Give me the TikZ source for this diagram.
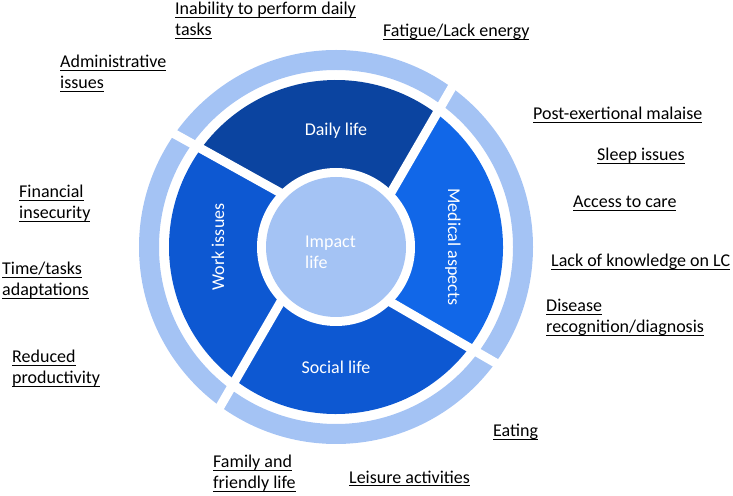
\documentclass[tikz,border=0pt]{standalone}
\usepackage{fontspec}
\setmainfont{Carlito}

\definecolor{ringlight}{RGB}{164,195,244}
\definecolor{dailyblue}{RGB}{11,68,160}
\definecolor{medblue}{RGB}{17,103,232}
\definecolor{workblue}{RGB}{13,88,210}

\newsavebox{\undlbox}
\newcommand{\undl}[1]{\sbox{\undlbox}{#1}\rlap{\rule[-2.8pt]{\wd\undlbox}{1pt}}\usebox{\undlbox}}

\begin{document}
\begin{tikzpicture}[x=1pt,y=1pt,
  font=\fontsize{18}{21}\selectfont,
  every node/.style={inner sep=0pt},
  label text/.style={anchor=base west,align=left},
  seg text/.style={text=white},
  gap/.style={white,line width=9pt,shorten <=-12pt,shorten >=-12pt}]

  \useasboundingbox (0,0) rectangle (733,495);

  % outer ring, the four segments and the centre
  \begin{scope}[shift={(336,248)}]
    \fill[ringlight,even odd rule] (0,0) circle[radius=197pt] (0,0) circle[radius=177pt];
    \foreach \a/\b/\col in {45/136/dailyblue,136/225/workblue,225/315/workblue,315/405/medblue}
      \fill[\col] (0,0) -- (\a:79pt) -- (\a+8:167pt) arc[start angle=\a+8,end angle=\b+8,radius=167pt] -- (\b:79pt) -- cycle;
    \foreach \a in {45,136,225,315}
      \draw[gap] (\a:79pt) -- (\a+9:197pt);
    \fill[white] (0,0) circle[radius=79pt];
    \fill[ringlight] (0,0) circle[radius=70pt];
  \end{scope}

  % segment texts
  \node[seg text] (daily) at (336,364) {Daily life};
  \node[seg text,rotate=-90] (medical) at (453,248) {Medical aspects};
  \node[seg text] (social) at (336,128) {Social life};
  \node[seg text,rotate=90] (work) at (218,248) {Work issues};
  \node[seg text,label text] (impact) at (305,226) {Impact\\life};

  % labels round the wheel (multi-line ones sit on their last line)
  \node[label text] (inability) at (175,459) {\undl{Inability to perform daily}\\\undl{tasks}};
  \node[label text] (fatigue) at (383,458) {\undl{Fatigue/Lack energy}};
  \node[label text] (admin) at (60,406) {\undl{Administrative}\\\undl{issues}};
  \node[label text] (postex) at (533,375) {\undl{Post-exertional malaise}};
  \node[label text] (sleep) at (597,334) {\undl{Sleep issues}};
  \node[label text] (access) at (573,287) {\undl{Access to care}};
  \node[label text] (knowledge) at (551,228) {\undl{Lack of knowledge on LC}};
  \node[label text] (disease) at (546,162) {\undl{Disease}\\\undl{recognition/diagnosis}};
  \node[label text] (financial) at (19,276) {\undl{Financial}\\\undl{insecurity}};
  \node[label text] (timetasks) at (2,199) {\undl{Time/tasks}\\\undl{adaptations}};
  \node[label text] (reduced) at (12,111) {\undl{Reduced}\\\undl{productivity}};
  \node[label text] (eating) at (493,58) {\undl{Eating}};
  \node[label text] (family) at (213,6) {\undl{Family and}\\\undl{friendly life}};
  \node[label text] (leisure) at (349,12) {\undl{Leisure activities}};
\end{tikzpicture}
\end{document}
